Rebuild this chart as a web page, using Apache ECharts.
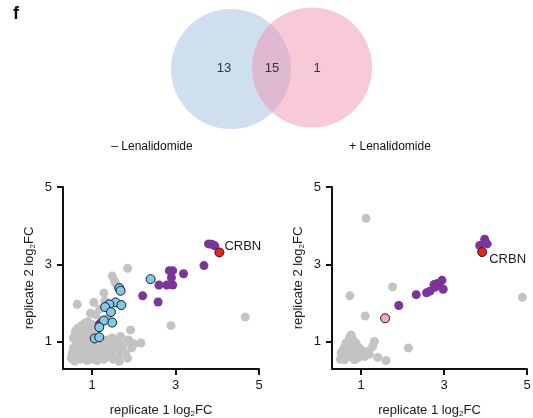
<!DOCTYPE html>
<html>
<head>
<meta charset="utf-8">
<script src="https://cdn.jsdelivr.net/npm/echarts@6/dist/echarts.min.js"></script>
<style>
  html, body { margin: 0; padding: 0; background: #fff; }
  #main { width: 533px; height: 418px; }
</style>
</head>
<body>
<div id="main"></div>
<script>
// venn counts: only -Len, both, only +Len
let vennCounts = [13, 15, 1];
let vennLabels = ['\u2013 Lenalidomide', '+ Lenalidomide'];

let tickValues = [1, 3, 5];

// left panel (- Lenalidomide)
let leftGray = [
  [1.85, 2.90], [1.48, 2.70], [1.53, 2.58], [1.57, 2.50], [1.28, 2.26], [0.64, 1.97],
  [1.04, 2.02], [0.96, 1.74], [1.08, 1.70], [0.82, 1.48], [0.90, 1.52], [0.74, 1.42],
  [0.88, 1.40], [1.00, 1.45], [1.12, 1.35], [1.92, 1.31], [2.89, 1.42], [4.67, 1.64],
  [0.59, 1.18], [1.68, 1.14], [1.87, 1.05], [2.17, 0.97], [1.60, 1.05], [1.75, 0.92],
  [1.55, 0.85], [1.42, 0.95], [1.35, 1.05], [1.25, 0.90], [1.30, 0.75], [1.15, 0.80],
  [1.05, 0.95], [0.95, 1.05], [0.85, 1.15], [0.75, 1.25], [0.70, 1.05], [0.62, 0.95],
  [0.55, 0.85], [0.52, 0.70], [0.50, 0.58], [0.60, 0.62], [0.68, 0.72], [0.72, 0.55],
  [0.80, 0.65], [0.85, 0.80], [0.78, 0.90], [0.90, 0.70], [0.95, 0.58], [1.00, 0.78],
  [1.08, 0.65], [1.12, 0.52], [1.20, 0.60], [1.28, 0.55], [1.38, 0.62], [1.45, 0.72],
  [1.50, 0.55], [1.62, 0.62], [1.70, 0.75], [1.80, 0.70], [1.95, 0.85], [2.00, 0.95],
  [0.65, 1.35], [0.72, 1.30], [0.80, 1.20], [0.92, 1.25], [1.02, 1.20], [1.10, 1.15],
  [0.98, 1.35], [0.55, 1.10], [0.60, 1.28], [1.18, 1.85], [1.35, 1.60], [1.30, 2.05],
  [1.22, 1.55], [0.58, 0.50], [0.65, 0.85], [0.75, 0.78], [0.88, 0.52], [1.02, 0.55],
  [1.18, 0.72], [1.25, 1.00], [1.40, 0.82], [1.48, 1.10], [1.58, 0.95], [1.65, 0.50],
  [1.85, 0.58], [0.92, 0.90], [1.05, 1.08], [0.70, 0.95], [0.80, 1.00]
];
let leftBoth = [
  [3.79, 3.53], [3.87, 3.52], [3.94, 3.48], [3.68, 2.97], [2.85, 2.84], [2.93, 2.84],
  [3.19, 2.76], [2.90, 2.66], [2.60, 2.47], [2.79, 2.47], [2.93, 2.47], [2.21, 2.19],
  [2.58, 2.03], [1.17, 1.46]
];
let leftOnly = [
  [2.40, 2.62], [1.65, 2.39], [1.68, 2.32], [1.56, 2.02], [1.70, 1.95], [1.41, 1.97],
  [1.31, 1.90], [1.45, 1.77], [1.48, 1.50], [1.28, 1.55], [1.17, 1.38], [1.06, 1.09],
  [1.17, 1.12]
];
let leftCrbn = [4.05, 3.31];

// right panel (+ Lenalidomide)
let rightGray = [
  [1.12, 4.19], [0.73, 2.19], [1.76, 2.42], [1.10, 1.67], [4.89, 2.15], [2.14, 0.84],
  [1.40, 0.60], [1.60, 0.52], [1.32, 1.01], [1.28, 0.88], [1.16, 0.75], [1.08, 0.62],
  [1.00, 0.79], [0.88, 0.97], [0.76, 1.18], [0.72, 1.10], [0.80, 1.05], [0.64, 0.97],
  [0.52, 0.72], [0.60, 0.54], [0.84, 0.54], [0.70, 0.62], [0.78, 0.75], [0.68, 0.85],
  [0.58, 0.82], [0.90, 0.70], [0.95, 0.85], [0.82, 0.90], [0.74, 0.95], [0.66, 0.70],
  [0.55, 0.62], [0.50, 0.55], [0.86, 0.62], [0.92, 0.58], [1.20, 0.68], [0.78, 1.10],
  [0.70, 1.02], [0.82, 0.80], [0.62, 0.90], [0.96, 0.65]
];
let rightBoth = [
  [3.86, 3.49], [3.98, 3.65], [4.04, 3.53], [3.98, 3.56], [2.95, 2.59], [2.98, 2.36],
  [2.84, 2.51], [2.76, 2.48], [2.88, 2.47], [2.66, 2.31], [2.58, 2.27], [2.78, 2.41],
  [2.33, 2.22], [1.91, 1.94]
];
let rightOnly = [[1.58, 1.61]];
let rightCrbn = [3.92, 3.32];

let fontName = 'Liberation Sans';
let textColor = '#1a1a1a';

let myChart = echarts.init(document.getElementById('main'));

function makeXAxis(idx) {
  return {
    type: 'value', gridIndex: idx, min: 0.3, max: 5,
    name: 'replicate 1 log{sub|2}FC', nameLocation: 'middle', nameGap: 33,
    nameTextStyle: {
      fontFamily: fontName, fontSize: 13, color: textColor,
      rich: { sub: { fontFamily: fontName, fontSize: 8, color: textColor, padding: [8, 0, 0, 0] } }
    },
    axisLine: { onZero: false, lineStyle: { color: '#111', width: 2 } },
    axisTick: { customValues: tickValues, length: 6, lineStyle: { color: '#111', width: 2 } },
    axisLabel: { customValues: tickValues, margin: 10, fontFamily: fontName, fontSize: 13, color: textColor },
    splitLine: { show: false }
  };
}

function makeYAxis(idx) {
  return {
    type: 'value', gridIndex: idx, min: 0.3, max: 5,
    name: 'replicate 2 log{sub|2}FC', nameLocation: 'middle', nameGap: 26,
    nameTextStyle: {
      fontFamily: fontName, fontSize: 13, color: textColor,
      rich: { sub: { fontFamily: fontName, fontSize: 8, color: textColor, padding: [8, 0, 0, 0] } }
    },
    axisLine: { onZero: false, lineStyle: { color: '#111', width: 2 } },
    axisTick: { customValues: tickValues, length: 6, lineStyle: { color: '#111', width: 2 } },
    axisLabel: { customValues: tickValues, margin: 11, fontFamily: fontName, fontSize: 13, color: textColor },
    splitLine: { show: false }
  };
}

function dots(idx, data, color, border, size) {
  return {
    type: 'scatter', xAxisIndex: idx, yAxisIndex: idx, data: data,
    symbolSize: size, silent: true,
    itemStyle: { color: color, opacity: 1, borderColor: border ? '#1a1a1a' : color, borderWidth: border ? 1 : 0 }
  };
}

function crbn(idx, point, dist, offset) {
  return {
    type: 'scatter', xAxisIndex: idx, yAxisIndex: idx, data: [point],
    symbolSize: 9, silent: true,
    itemStyle: { color: '#e8221c', opacity: 1, borderColor: '#1a1a1a', borderWidth: 1 },
    label: {
      show: true, position: 'right', distance: dist, offset: offset,
      formatter: 'CRBN', fontFamily: fontName, fontSize: 13, color: textColor
    }
  };
}

let option = {
  backgroundColor: '#fff',
  animation: false,
  grid: [
    { left: 63, top: 187, width: 196, height: 182, containLabel: false, outerBoundsMode: 'none' },
    { left: 332, top: 187, width: 195, height: 182, containLabel: false, outerBoundsMode: 'none' }
  ],
  xAxis: [makeXAxis(0), makeXAxis(1)],
  yAxis: [makeYAxis(0), makeYAxis(1)],
  graphic: [
    { type: 'text', left: 13, top: 5, style: { text: 'f', fontFamily: fontName, fontSize: 18, fontWeight: 'bold', fill: '#111' } },
    { type: 'circle', shape: { cx: 231, cy: 69, r: 60 }, style: { fill: '#cfdfef' } },
    { type: 'circle', shape: { cx: 312, cy: 67.5, r: 60 }, style: { fill: 'rgba(239,147,179,0.5)' } },
    { type: 'text', x: 224, y: 68, style: { text: String(vennCounts[0]), align: 'center', verticalAlign: 'middle', fontFamily: fontName, fontSize: 13, fill: '#333' } },
    { type: 'text', x: 272, y: 68, style: { text: String(vennCounts[1]), align: 'center', verticalAlign: 'middle', fontFamily: fontName, fontSize: 13, fill: '#333' } },
    { type: 'text', x: 317, y: 68, style: { text: String(vennCounts[2]), align: 'center', verticalAlign: 'middle', fontFamily: fontName, fontSize: 13, fill: '#333' } },
    { type: 'text', x: 152, y: 147, style: { text: vennLabels[0], align: 'center', verticalAlign: 'middle', fontFamily: fontName, fontSize: 12, fill: '#111' } },
    { type: 'text', x: 390, y: 147, style: { text: vennLabels[1], align: 'center', verticalAlign: 'middle', fontFamily: fontName, fontSize: 12, fill: '#111' } }
  ],
  series: [
    dots(0, leftGray, '#c3c3c3', false, 9),
    dots(0, leftBoth, '#7b3598', false, 9),
    dots(0, leftOnly, '#80cbe9', true, 9),
    crbn(0, leftCrbn, 0, [0, -6]),
    dots(1, rightGray, '#c3c3c3', false, 9),
    dots(1, rightBoth, '#7b3598', false, 9),
    dots(1, rightOnly, '#f4a6c2', true, 9),
    crbn(1, rightCrbn, 2, [0, 7])
  ]
};

myChart.setOption(option);
</script>
</body>
</html>
